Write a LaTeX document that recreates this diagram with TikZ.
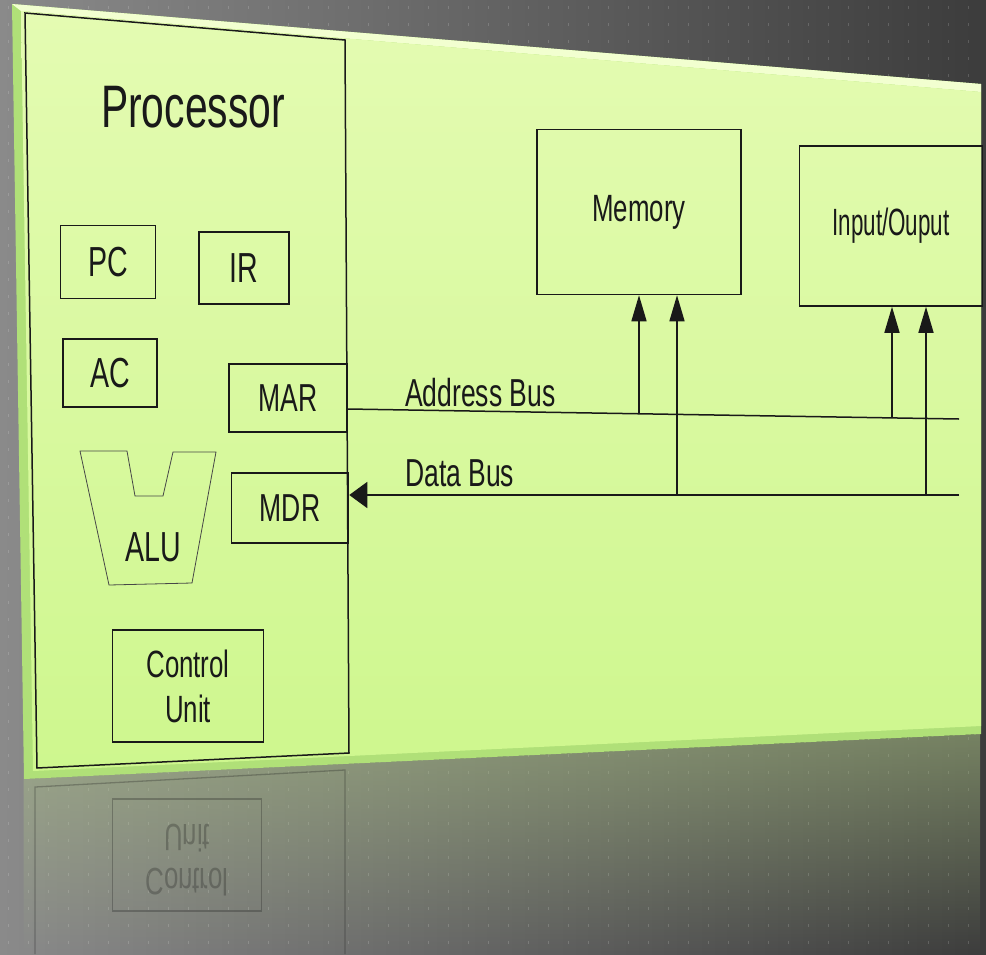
\documentclass[tikz,border=0pt]{standalone}
\usepackage{fontspec}
\setmainfont{Liberation Sans}[FakeStretch=0.68]
\newfontfamily\ionarrow{Liberation Sans}[FakeStretch=0.59]
\usetikzlibrary{arrows.meta,positioning,calc,fadings}
\definecolor{bgdark}{RGB}{60,60,60}
\definecolor{bgmid}{RGB}{100,100,100}
\definecolor{bglight}{RGB}{138,138,138}
\definecolor{panelhi}{RGB}{228,251,178}
\definecolor{panello}{RGB}{206,247,142}
\definecolor{bevel}{RGB}{176,224,120}
\definecolor{bevelhi}{RGB}{242,255,208}
\definecolor{ink}{RGB}{25,25,25}

\begin{document}
\begin{tikzpicture}[x=1pt, y=-1pt,
  reg/.style={rectangle, draw=ink, line width=1.5pt, inner sep=0pt,
              align=center, text=ink},
  lbl/.style={text=ink, inner sep=0pt},
  bus/.style={draw=ink, line width=1.5pt},
  busarr/.style={bus, -{Triangle[length=26pt, width=15pt]}},
  dot/.style={fill=white, opacity=0.16},
  refl/.style={opacity=0.28}
]
\useasboundingbox (0,0) rectangle (986,954);

% Background with dot grid
\shade[left color=bglight, middle color=bgmid, right color=bgdark] (0,0) rectangle (986,954);
\foreach \i in {0,...,49}
  \foreach \j in {0,...,55}
    \fill[dot] (8+20*\i, 6+17*\j) rectangle ++(1.2,3);

% Reflection under the panel
\fill[panello!60!gray, fill opacity=0.5, path fading=south]
  (24,779) -- (981,734) -- (981,954) -- (24,954) -- cycle;
\draw[ink, refl, line width=1.3pt] (35,954) -- (35,787) -- (345,770) -- (345,954);
\node[reg, refl, minimum width=149pt, minimum height=112pt,
      font=\fontsize{38}{44}\selectfont] (curefl) at (187,855)
  {\scalebox{1}[-1]{\begin{tabular}{@{}c@{}}Control\\Unit\end{tabular}}};

% Panel
\fill[bevel] (12,4) -- (981,84) -- (981,734) -- (24,779) -- cycle;
\fill[bevelhi] (12,4) -- (981,84) -- (981,92) -- (21,11) -- cycle;
\shade[top color=panelhi, bottom color=panello]
  (21,11) -- (981,92) -- (981,726) -- (33,771) -- cycle;

% Processor
\draw[ink, line width=1.5pt] (25,13) -- (345,40) -- (349,753) -- (37,768) -- cycle;
\node[lbl, font=\fontsize{60}{66}\selectfont] (proc) at (193,107) {Processor};

% Registers
\node[reg, minimum width=95pt, minimum height=73pt, font=\fontsize{42}{48}\selectfont]  (pc)  at (108,262) {PC};
\node[reg, minimum width=90pt, minimum height=72pt, font=\fontsize{42}{48}\selectfont]  (ir)  at (244,268) {IR};
\node[reg, minimum width=94pt, minimum height=68pt, font=\fontsize{42}{48}\selectfont]  (ac)  at (110,373) {AC};
\node[reg, minimum width=118pt, minimum height=68pt, font=\fontsize{39}{45}\selectfont] (mar) at (288,398) {MAR};
\node[reg, minimum width=117pt, minimum height=70pt, font=\fontsize{39}{45}\selectfont] (mdr) at (290,508) {MDR};

% ALU
\draw[ink!80, line width=0.8pt] (80,451) -- (127,451) -- (135,496) -- (163,496) -- (173,452)
  -- (216,452) -- (192,583) -- (109,585) -- cycle;
\node[lbl, font=\fontsize{42}{48}\selectfont] (alu) at (153,547) {ALU};

% Control unit
\node[reg, minimum width=151pt, minimum height=112pt, font=\fontsize{38}{45}\selectfont] (cu) at (188,686)
  {Control\\Unit};

% Memory and I/O
\node[reg, minimum width=204pt, minimum height=165pt, font=\fontsize{38}{44}\selectfont] (mem) at (639,212) {Memory};
\node[reg, minimum width=183pt, minimum height=160pt, font=\fontsize{38}{44}\ionarrow] (io) at (891,226) {Input/Ouput};

% Buses
\coordinate (abus) at (959,419);
\coordinate (dbus) at (959,495);
\draw[bus] ([yshift=-11pt]mar.east) -- (abus);
\draw[bus, -{Triangle[length=18pt, width=26pt]}] (dbus) -- (dbus -| mdr.east);
\node[lbl, anchor=west, font=\fontsize{39}{45}\selectfont] (alab) at (405,393) {Address Bus};
\node[lbl, anchor=west, font=\fontsize{39}{45}\selectfont] (dlab) at (405,473) {Data Bus};

% Taps to memory and I/O
\coordinate (ma) at (639,414);
\coordinate (md) at (677,495);
\coordinate (ia) at (892,418);
\coordinate (id) at (926,495);
\draw[busarr] (ma) -- (ma |- mem.south);
\draw[busarr] (md) -- (md |- mem.south);
\draw[busarr] (ia) -- (ia |- io.south);
\draw[busarr] (id) -- (id |- io.south);
\end{tikzpicture}
\end{document}
